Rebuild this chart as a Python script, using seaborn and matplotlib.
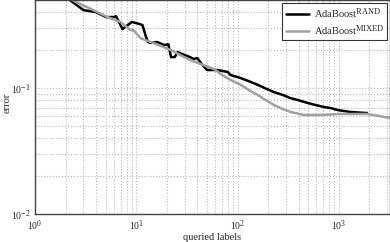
import numpy as np
import pandas as pd
import matplotlib
matplotlib.use("Agg")
import matplotlib.pyplot as plt
import matplotlib._mathtext as mtext
import seaborn as sns

# error vs. number of queried labels
rand_x = [1, 2.2, 3, 4, 5, 6, 6.3, 7.3, 9, 10, 11.5, 12.3, 13, 14, 16, 19, 20.7,
          22, 24, 25.5, 30, 34, 37, 40, 45, 50, 63, 80, 85, 107, 130, 158, 190,
          227, 280, 335, 400, 493, 600, 710, 850, 977, 1150, 1315, 1600, 1900]
rand_y = [0.80, 0.50, 0.416, 0.40, 0.366, 0.366, 0.372, 0.294, 0.334, 0.328,
          0.316, 0.263, 0.232, 0.228, 0.232, 0.219, 0.223, 0.176, 0.176, 0.193,
          0.183, 0.176, 0.170, 0.173, 0.152, 0.139, 0.139, 0.134, 0.127, 0.120,
          0.113, 0.106, 0.099, 0.093, 0.088, 0.083, 0.080, 0.076, 0.073, 0.0707,
          0.069, 0.0668, 0.0655, 0.0645, 0.0638, 0.0633]

mixed_x = [1, 2.3, 3.75, 5.2, 7, 8.7, 9.3, 11, 12.3, 13, 14.7, 19, 22, 27, 35,
           46, 60, 68, 85, 107, 130, 158, 190, 227, 280, 335, 450, 620, 800,
           1000, 1400, 1900, 2500, 3200]
mixed_y = [0.69, 0.50, 0.416, 0.366, 0.334, 0.289, 0.289, 0.249, 0.240, 0.236,
           0.228, 0.210, 0.200, 0.183, 0.165, 0.152, 0.140, 0.129, 0.116, 0.106,
           0.096, 0.088, 0.080, 0.0735, 0.068, 0.0645, 0.0611, 0.0611, 0.0615,
           0.0622, 0.0622, 0.0622, 0.060, 0.0578]

labels = ["AdaBoost$^{\\mathrm{RAND}}$", "AdaBoost$^{\\mathrm{MIXED}}$"]

df = pd.concat([
    pd.DataFrame({"queried labels": rand_x, "error": rand_y, "method": labels[0]}),
    pd.DataFrame({"queried labels": mixed_x, "error": mixed_y, "method": labels[1]}),
])

sns.set_style("white")
plt.rcParams["font.family"] = ["Liberation Serif", "DejaVu Serif"]
plt.rcParams["mathtext.fontset"] = "custom"
plt.rcParams["mathtext.rm"] = "Liberation Serif"
plt.rcParams["mathtext.it"] = "Liberation Serif:italic"
# bigger superscripts, closer to the original look
mtext.SHRINK_FACTOR = 0.8

fig = plt.figure(figsize=(3.9, 2.42), dpi=100)
ax = fig.add_axes([0.09, 0.116, 0.91, 0.884])

sns.lineplot(data=df, x="queried labels", y="error", hue="method",
             palette=["black", "#a0a0a0"], linewidth=1.8, sort=False,
             estimator=None, ax=ax)

ax.set_xscale("log")
ax.set_yscale("log")
ax.set_xlim(1, 3200)
ax.set_ylim(0.01, 0.5)

ax.grid(True, which="both", linestyle=":", color="#b8b8b8", linewidth=0.8)
ax.tick_params(which="both", direction="in", labelsize=7, length=2,
               color="#555555", pad=3)
ax.tick_params(which="major", length=3)
for s in ax.spines.values():
    s.set_color("#444444")
    s.set_linewidth(1.0)

ax.set_xlabel("queried labels", fontsize=7.5, labelpad=1)
ax.set_ylabel("error", fontsize=7.5)
ax.yaxis.set_label_coords(-0.066, 0.52)

leg = ax.legend(loc="upper right", fontsize=7.5, frameon=True, fancybox=False,
                edgecolor="#333333", framealpha=1, handlelength=2.2,
                borderpad=0.3, labelspacing=0.35, handletextpad=0.5,
                borderaxespad=0.25)
leg.get_frame().set_linewidth(0.8)

fig.savefig("out.png", dpi=100)
